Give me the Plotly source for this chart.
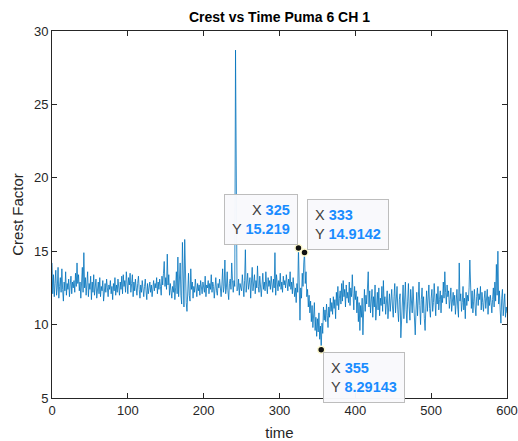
import plotly.graph_objects as go

# ---- data ----
crest_rows = [
    [14.2, 12.1, 13.4, 11.9, 12.8, 13.7, 12.0, 12.5, 13.9, 11.8],   # 0
    [12.6, 13.2, 12.2, 13.8, 12.4, 11.6, 12.9, 12.3, 13.6, 12.0],   # 10
    [12.8, 12.4, 13.1, 11.9, 12.7, 13.3, 12.1, 12.9, 12.5, 13.0],   # 20
    [12.2, 13.5, 12.6, 14.2, 12.8, 13.4, 12.3, 12.9, 11.8, 12.6],   # 30
    [13.9, 12.2, 14.9, 12.5, 13.2, 12.0, 12.7, 13.6, 11.9, 12.8],   # 40
    [12.4, 13.3, 11.7, 12.9, 12.2, 13.4, 12.0, 12.6, 13.1, 11.8],   # 50
    [12.5, 12.9, 12.1, 13.2, 11.9, 12.6, 12.3, 13.0, 11.6, 12.4],   # 60
    [12.8, 12.2, 13.1, 12.5, 11.9, 12.7, 12.4, 13.0, 12.1, 12.6],   # 70
    [11.7, 12.8, 12.3, 13.2, 12.0, 12.7, 12.2, 13.1, 12.5, 12.0],   # 80
    [12.9, 12.4, 13.3, 12.1, 13.4, 12.6, 13.0, 12.2, 13.6, 12.5],   # 90
    [12.1, 13.2, 12.7, 13.5, 12.2, 12.8, 13.4, 11.9, 12.9, 12.3],   # 100
    [13.1, 12.5, 12.0, 12.8, 13.3, 12.4, 11.8, 12.7, 12.2, 13.0],   # 110
    [12.4, 11.9, 12.6, 13.1, 12.3, 11.7, 12.8, 12.1, 12.5, 12.9],   # 120
    [12.2, 12.7, 11.9, 12.6, 13.0, 12.3, 12.8, 12.5, 13.2, 12.1],   # 130
    [12.9, 12.4, 13.1, 12.6, 12.0, 13.3, 12.7, 13.5, 14.3, 12.6],   # 140
    [13.2, 12.4, 14.8, 12.7, 13.4, 12.0, 12.8, 12.3, 11.8, 12.6],   # 150
    [12.2, 13.0, 11.7, 12.5, 13.6, 12.1, 14.6, 11.9, 13.2, 14.2],   # 160
    [12.0, 11.4, 15.6, 12.3, 11.2, 15.8, 12.5, 11.5, 10.9, 12.8],   # 170
    [13.5, 12.0, 11.6, 13.8, 12.4, 12.9, 11.8, 12.6, 12.2, 13.1],   # 180
    [12.5, 11.9, 12.8, 12.3, 12.7, 12.0, 13.0, 12.4, 12.1, 12.9],   # 190
    [12.6, 12.2, 13.3, 11.9, 12.7, 12.5, 13.0, 12.1, 12.8, 12.4],   # 200
    [13.4, 12.2, 12.9, 12.6, 11.8, 12.7, 13.2, 12.3, 12.0, 12.8],   # 210
    [12.5, 13.1, 12.4, 11.9, 12.7, 13.8, 12.2, 12.6, 14.4, 12.1],   # 220
    [12.5, 13.6, 12.3, 11.7, 12.8, 13.1, 12.4, 14.2, 13.0, 12.2],   # 230
    [13.0, 12.6, 28.7, 13.2, 12.3, 12.4, 13.1, 12.0, 12.8, 12.5],   # 240
    [12.3, 13.4, 12.8, 11.9, 13.0, 15.1, 12.2, 12.9, 13.5, 12.4],   # 250
    [12.7, 13.2, 11.8, 12.6, 13.9, 12.3, 12.8, 13.4, 12.1, 13.0],   # 260
    [12.5, 14.0, 12.6, 12.2, 13.3, 12.8, 11.9, 12.7, 13.5, 12.4],   # 270
    [12.9, 12.3, 13.6, 12.7, 12.1, 13.2, 12.6, 13.0, 12.4, 13.3],   # 280
    [12.8, 12.2, 13.1, 12.5, 14.9, 12.0, 13.4, 12.7, 12.3, 13.0],   # 290
    [12.6, 13.5, 12.4, 12.9, 12.2, 13.3, 12.7, 13.0, 12.5, 13.4],   # 300
    [12.8, 12.3, 13.1, 12.6, 13.6, 12.4, 12.9, 12.1, 13.2, 12.7],   # 310
    [11.9, 12.5, 11.5, 12.8, 12.2, 15.219, 11.0, 10.3, 12.5, 11.8], # 320
    [13.5, 12.6, 14.2, 14.9142, 12.8, 13.6, 11.9, 12.4, 11.2, 12.0],# 330
    [10.8, 11.6, 10.2, 11.3, 9.8, 10.9, 11.5, 9.6, 10.5, 9.2],      # 340
    [10.4, 9.5, 10.8, 9.0, 9.9, 8.29143, 10.1, 9.4, 11.2, 10.3],    # 350
    [11.0, 10.2, 11.4, 10.6, 9.8, 11.2, 10.5, 11.8, 10.9, 11.5],    # 360
    [10.7, 11.9, 11.1, 11.7, 10.4, 12.2, 11.3, 12.6, 11.0, 11.8],   # 370
    [12.3, 11.4, 12.8, 11.6, 13.0, 11.9, 12.4, 11.2, 12.7, 11.8],   # 380
    [12.2, 11.5, 12.9, 11.3, 12.5, 11.9, 13.4, 12.1, 11.0, 12.6],   # 390
    [11.7, 12.3, 10.8, 11.9, 10.2, 11.5, 9.6, 11.3, 10.5, 11.8],    # 400
    [9.3, 11.0, 12.4, 10.9, 12.0, 11.4, 12.8, 13.6, 11.2, 12.3],    # 410
    [10.8, 11.6, 12.4, 10.5, 11.9, 11.2, 12.7, 10.3, 11.5, 12.2],   # 420
    [11.0, 12.5, 10.6, 11.8, 11.3, 12.6, 10.9, 13.0, 11.4, 11.9],   # 430
    [10.7, 11.5, 12.3, 10.4, 11.8, 12.1, 10.9, 11.6, 12.4, 11.2],   # 440
    [10.5, 11.9, 12.8, 10.8, 11.4, 12.6, 11.0, 10.2, 11.7, 12.1],   # 450
    [9.1, 10.6, 11.8, 12.7, 10.4, 11.3, 12.9, 11.0, 10.1, 11.6],    # 460
    [12.8, 11.2, 10.3, 12.4, 11.7, 10.8, 12.6, 11.5, 10.4, 9.3],    # 470
    [11.0, 12.2, 10.6, 11.8, 12.9, 11.3, 10.0, 11.7, 12.5, 10.8],   # 480
    [11.9, 10.4, 9.6, 11.2, 12.3, 10.9, 11.6, 12.7, 11.1, 10.5],    # 490
    [11.8, 12.4, 10.9, 11.5, 12.8, 11.2, 10.6, 12.1, 11.4, 12.6],   # 500
    [11.0, 11.7, 12.3, 10.8, 12.0, 11.5, 12.9, 11.8, 13.6, 12.2],   # 510
    [11.4, 12.7, 11.9, 12.3, 11.1, 11.7, 12.5, 10.9, 11.8, 12.2],   # 520
    [11.3, 12.0, 10.7, 11.6, 12.4, 11.2, 10.5, 14.2, 11.6, 12.1],   # 530
    [10.9, 11.5, 12.6, 11.0, 11.8, 10.4, 12.2, 11.3, 12.0, 11.6],   # 540
    [12.5, 14.4, 11.7, 11.1, 12.3, 10.8, 11.6, 12.4, 11.2, 10.6],   # 550
    [11.9, 12.5, 11.3, 12.1, 11.7, 12.6, 11.0, 12.2, 11.5, 10.9],   # 560
    [11.8, 12.3, 11.1, 11.6, 12.4, 10.7, 11.9, 11.3, 12.0, 11.5],   # 570
    [10.8, 11.7, 12.5, 11.2, 12.9, 11.6, 14.1, 12.0, 15.0, 11.4],   # 580
    [12.3, 11.0, 10.1, 11.8, 12.4, 10.6, 11.3, 12.1, 10.5, 11.2],   # 590
    [10.8],                                                          # 600
]
crest = [v for row in crest_rows for v in row]
time = list(range(len(crest)))

tip_x = [325, 333, 355]
tip_y = [15.219, 14.9142, 8.29143]
tip_labels = ["15.219", "14.9142", "8.29143"]

x_ticks = [0, 100, 200, 300, 400, 500, 600]
y_ticks = [5, 10, 15, 20, 25, 30]

AX = "#262626"
BLUE = "#0072BD"
TIPBLUE = "#1a8cff"
FONT = "Liberation Sans, Arial, Helvetica, sans-serif"

fig = go.Figure()
fig.add_trace(go.Scatter(x=time, y=crest, mode="lines",
                         line=dict(color=BLUE, width=0.8), hoverinfo="skip",
                         showlegend=False))
fig.add_trace(go.Scatter(x=tip_x, y=tip_y, mode="markers",
                         marker=dict(color="#111111", size=7,
                                     line=dict(color="#fffbd0", width=1.5)),
                         showlegend=False, hoverinfo="skip"))

def tip_text(xv, yv):
    return (f"<span style='color:#404040'>X</span> <b><span style='color:{TIPBLUE}'>{xv}</span></b><br>"
            f"<span style='color:#404040'>Y</span> <b><span style='color:{TIPBLUE}'>{yv}</span></b>")

anchors = [
    dict(xanchor="right", yanchor="bottom", xshift=0, yshift=3, align="right"),
    dict(xanchor="left", yanchor="bottom", xshift=2, yshift=2, align="left"),
    dict(xanchor="left", yanchor="top", xshift=2, yshift=-2, align="left"),
]
for xv, yv, lab, a in zip(tip_x, tip_y, tip_labels, anchors):
    fig.add_annotation(x=xv, y=yv, xref="x", yref="y", showarrow=False,
                       text=tip_text(xv, lab), font=dict(family=FONT, size=14.5),
                       bgcolor="rgba(249,249,252,0.97)", bordercolor="#bdbdbd",
                       borderwidth=1, borderpad=7, **a)

fig.update_layout(
    width=518, height=441,
    margin=dict(l=52, r=11, t=31, b=43, autoexpand=False),
    paper_bgcolor="white", plot_bgcolor="white",
    font=dict(family=FONT, color=AX, size=13),
    title=dict(text="<b>Crest vs Time Puma 6 CH 1</b>", x=0.5, xanchor="center",
               xref="paper", y=0.962, yanchor="middle",
               font=dict(family=FONT, size=14, color="#000000")),
)
fig.update_xaxes(range=[0, 600], tickvals=x_ticks, showgrid=False, zeroline=False,
                 automargin=False,
                 showline=True, linecolor=AX, linewidth=1, mirror="ticks",
                 ticks="inside", ticklen=5, tickcolor=AX,
                 tickfont=dict(size=13, color=AX),
                 title=dict(text="time", font=dict(size=15, color=AX), standoff=10))
fig.update_yaxes(range=[5, 30], tickvals=y_ticks, showgrid=False, zeroline=False,
                 automargin=False,
                 showline=True, linecolor=AX, linewidth=1, mirror="ticks",
                 ticks="inside", ticklen=5, tickcolor=AX,
                 tickfont=dict(size=13, color=AX),
                 title=dict(text="Crest Factor", font=dict(size=15, color=AX), standoff=6))

fig.write_html("out.html")
